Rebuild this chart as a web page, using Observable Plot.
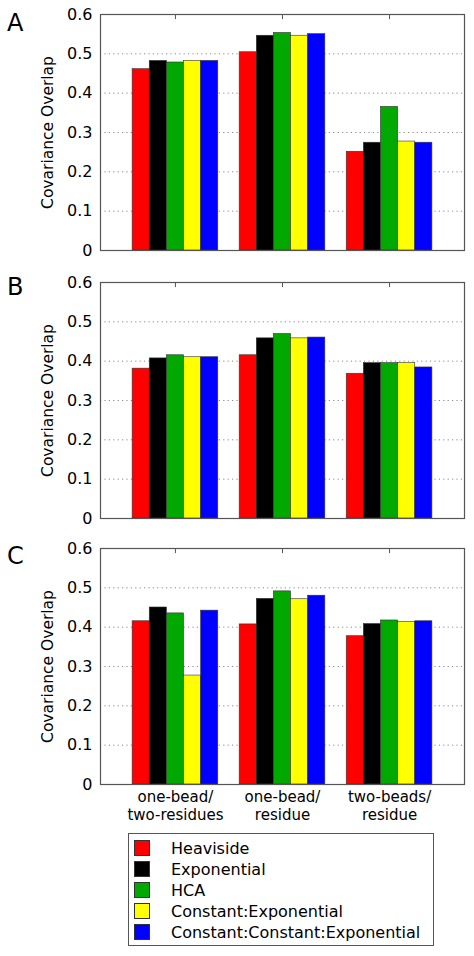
<!DOCTYPE html>
<html>
<head>
<meta charset="utf-8">
<script src="https://cdn.jsdelivr.net/npm/d3@7"></script>
<script src="https://cdn.jsdelivr.net/npm/@observablehq/plot@0.6"></script>
<style>
  body { margin: 0; background: #fff; font-family: "DejaVu Sans", sans-serif; }
  #root { position: relative; width: 474px; height: 956px; overflow: hidden; background: #fff; }
  .pnl { position: absolute; left: 0; }
  .letter { position: absolute; font-size: 24px; line-height: 24px; color: #000; }
  #legend { position: absolute; left: 128px; top: 833px; width: 306px; height: 113px; border: 1px solid #555; box-sizing: border-box; }
  .lrow { position: absolute; left: 0; height: 20px; font-size: 16px; line-height: 20px; }
  .sw { position: absolute; left: 5px; top: 1px; width: 16px; height: 16px; border: 1px solid #333; box-sizing: border-box; }
  .lt { position: absolute; left: 42px; top: 0; white-space: nowrap; }
</style>
</head>
<body>
<div id="root"></div>
<script>
// ---- data ----
const categories = ["one-bead/\ntwo-residues", "one-bead/\nresidue", "two-beads/\nresidue"];
const seriesNames = ["Heaviside", "Exponential", "HCA", "Constant:Exponential", "Constant:Constant:Exponential"];
const seriesColors = ["#ff0000", "#000000", "#00a800", "#ffff00", "#0000ff"];
const yTicks = [0, 0.1, 0.2, 0.3, 0.4, 0.5, 0.6];
const yLabel = "Covariance Overlap";
// rows = categories, columns = series (in seriesNames order)
const valuesA = [
  [0.461, 0.482, 0.478, 0.482, 0.482],
  [0.504, 0.546, 0.553, 0.546, 0.550],
  [0.251, 0.274, 0.365, 0.277, 0.274]
];
const valuesB = [
  [0.381, 0.407, 0.415, 0.410, 0.410],
  [0.415, 0.458, 0.469, 0.458, 0.460],
  [0.368, 0.395, 0.395, 0.395, 0.384]
];
const valuesC = [
  [0.415, 0.450, 0.435, 0.277, 0.442],
  [0.407, 0.472, 0.491, 0.471, 0.480],
  [0.377, 0.408, 0.417, 0.413, 0.415]
];
const panelLetters = ["A", "B", "C"];

// ---- drawing ----
const root = document.getElementById("root");
const groupWidth = 0.8;
const barW = groupWidth / seriesNames.length;

function panel(values, showX) {
  const data = [];
  values.forEach((row, ci) => row.forEach((v, si) => data.push({cat: ci, s: si, v})));
  const catPos = categories.map((c, i) => i + 1);
  return Plot.plot({
    width: 474,
    height: showX ? 295 : 262,
    marginLeft: 100, marginRight: 10, marginTop: 14, marginBottom: showX ? 45 : 12,
    style: {fontFamily: "DejaVu Sans", fontSize: "16px", background: "white", color: "#000", overflow: "visible"},
    x: {domain: [0.3, 3.7], axis: null},
    y: {domain: [0, 0.6], axis: null},
    color: {domain: seriesNames, range: seriesColors},
    marks: [
      Plot.ruleY(yTicks.slice(1, -1), {stroke: "#8a8a8a", strokeDasharray: "1.2,3.2", strokeWidth: 1}),
      Plot.rectY(data, {
        x1: d => d.cat + 1 - groupWidth / 2 + d.s * barW,
        x2: d => d.cat + 1 - groupWidth / 2 + (d.s + 1) * barW,
        y1: 0, y2: "v",
        fill: d => seriesNames[d.s],
        stroke: "#333", strokeWidth: 0.6
      }),
      Plot.ruleX(catPos, {y1: 0.6, y2: 0.587, stroke: "#555"}),
      Plot.frame({stroke: "#555", strokeWidth: 1.2}),
      Plot.axisY(yTicks, {tickSize: 0, tickPadding: 8, tickFormat: d => d === 0 ? "0" : d.toFixed(1), fontSize: 16, label: null}),
      showX ? Plot.axisX(catPos, {tickSize: 0, tickPadding: 5, tickFormat: i => categories[i - 1], fontSize: 15, lineHeight: 1.2, label: null}) : null,
      Plot.text([yLabel], {frameAnchor: "left", textAnchor: "middle", rotate: -90, dx: -52, fontSize: 15.5, fill: "#000"})
    ]
  });
}

const panelTops = [0, 268, 534];
const letterTops = [10.5, 275, 544];
[valuesA, valuesB, valuesC].forEach((vals, i) => {
  const svg = panel(vals, i === 2);
  const wrap = document.createElement("div");
  wrap.className = "pnl";
  wrap.style.top = panelTops[i] + "px";
  wrap.appendChild(svg);
  root.appendChild(wrap);
  const L = document.createElement("div");
  L.className = "letter";
  L.style.left = "7px";
  L.style.top = letterTops[i] + "px";
  L.textContent = panelLetters[i];
  root.appendChild(L);
});

// legend
const legend = document.createElement("div");
legend.id = "legend";
seriesNames.forEach((name, i) => {
  const row = document.createElement("div");
  row.className = "lrow";
  row.style.top = (5 + i * 21) + "px";
  row.style.width = "100%";
  const sw = document.createElement("div");
  sw.className = "sw";
  sw.style.background = seriesColors[i];
  const t = document.createElement("div");
  t.className = "lt";
  t.textContent = name;
  row.appendChild(sw);
  row.appendChild(t);
  legend.appendChild(row);
});
root.appendChild(legend);
</script>
</body>
</html>
